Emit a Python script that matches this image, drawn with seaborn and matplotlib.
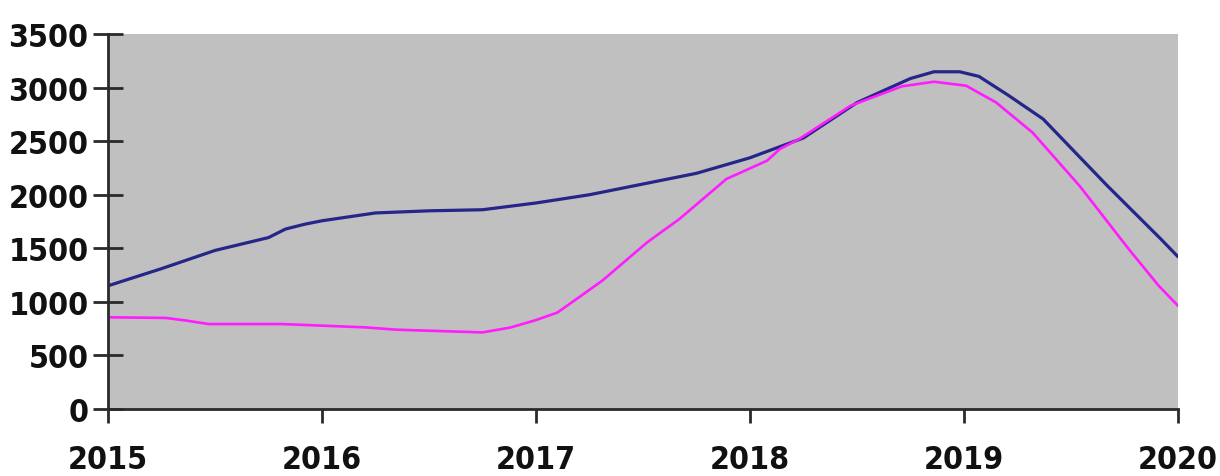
import pandas as pd
import matplotlib
matplotlib.use("Agg")
import matplotlib.pyplot as plt
import seaborn as sns

# values, x in decimal years
blue_years = [2015.00, 2015.25, 2015.50, 2015.75, 2015.83, 2015.92, 2016.00, 2016.25,
              2016.50, 2016.75, 2017.00, 2017.25, 2017.50, 2017.75, 2018.00, 2018.25,
              2018.50, 2018.75, 2018.86, 2018.98, 2019.07, 2019.21, 2019.37, 2019.67,
              2019.92, 2020.00]
blue_values = [1150, 1310, 1480, 1600, 1680, 1725, 1757, 1830,
               1850, 1860, 1923, 2000, 2100, 2200, 2345, 2530,
               2860, 3085, 3148, 3148, 3105, 2925, 2707, 2084,
               1587, 1422]

pink_years = [2015.00, 2015.27, 2015.37, 2015.47, 2015.81, 2016.20, 2016.35, 2016.75,
              2016.88, 2017.00, 2017.10, 2017.19, 2017.31, 2017.52, 2017.67, 2017.89,
              2018.08, 2018.14, 2018.23, 2018.47, 2018.71, 2018.86, 2019.01, 2019.15,
              2019.32, 2019.54, 2019.77, 2019.91, 2020.00]
pink_values = [856, 850, 824, 793, 793, 762, 740, 715,
               760, 830, 900, 1027, 1198, 1556, 1773, 2147,
               2318, 2427, 2520, 2831, 3012, 3055, 3018, 2862,
               2582, 2084, 1493, 1151, 964]

year_ticks = [2015, 2016, 2017, 2018, 2019, 2020]
value_ticks = [0, 500, 1000, 1500, 2000, 2500, 3000, 3500]

df = pd.concat([
    pd.DataFrame({'year': blue_years, 'value': blue_values, 'series': 'a'}),
    pd.DataFrame({'year': pink_years, 'value': pink_values, 'series': 'b'}),
])

sns.set_style("white")
plt.rcParams['font.family'] = ['DejaVu Sans']

fig = plt.figure(figsize=(12.2, 4.77), dpi=100)
ax = fig.add_axes([0.0885, 0.1405, 0.877, 0.786])
ax.set_facecolor('#c0c0c0')

sns.lineplot(data=df[df.series == 'a'], x='year', y='value', color='#25258a',
             linewidth=2.3, ax=ax, legend=False)
sns.lineplot(data=df[df.series == 'b'], x='year', y='value', color='#ff1cff',
             linewidth=1.9, ax=ax, legend=False)

ax.set_xlim(2015, 2020)
ax.set_ylim(0, 3500)
ax.set_xticks(year_ticks)
ax.set_yticks(value_ticks)
ax.set_xlabel('')
ax.set_ylabel('')

for side in ['top', 'right']:
    ax.spines[side].set_visible(False)
for side in ['left', 'bottom']:
    ax.spines[side].set_color('#2a2a2a')
    ax.spines[side].set_linewidth(2)

ax.tick_params(axis='y', left=True, direction='inout', length=22, width=2, color='#2a2a2a',
               pad=3, labelsize=23, labelcolor='#111111')
ax.tick_params(axis='x', bottom=True, direction='out', length=10, width=2, color='#2a2a2a',
               pad=15, labelsize=23, labelcolor='#111111')
for lab in ax.get_xticklabels() + ax.get_yticklabels():
    lab.set_fontweight('bold')
    lab.set_fontstretch('condensed')

fig.savefig('out.png', dpi=100)
